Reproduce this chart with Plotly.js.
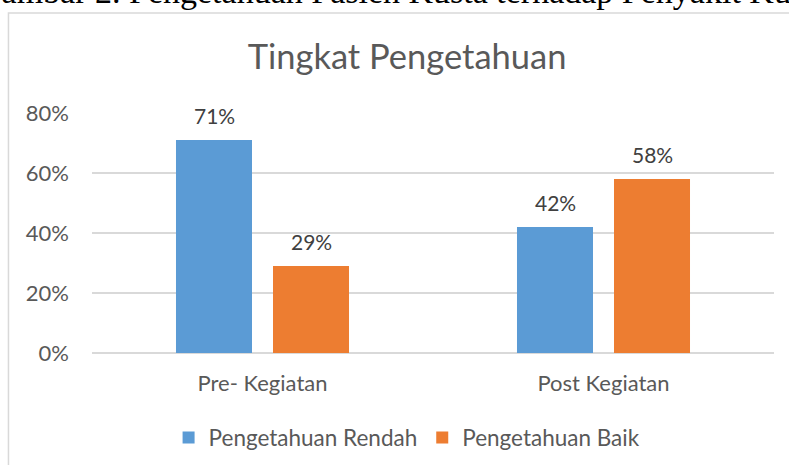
<!DOCTYPE html>
<html>
<head>
<meta charset="utf-8">
<script src="https://cdn.plot.ly/plotly-3.0.1.min.js"></script>
<style>html,body{margin:0;padding:0;background:#fff;}#chart{width:789px;height:465px;}</style>
</head>
<body>
<div id="chart"></div>
<script>
const categories = ["Pre- Kegiatan", "Post Kegiatan"];
const seriesNames = ["Pengetahuan Rendah", "Pengetahuan Baik"];
const rendah = [0.71, 0.42];
const baik = [0.29, 0.58];
const yTickVals = [0, 0.2, 0.4, 0.6, 0.8];
const yTickText = ["0%", "20%", "40%", "60%", "80%"];
const chartTitle = "Tingkat Pengetahuan";
const captionText = "Gambar 2. Pengetahuan Pasien Kusta terhadap Penyakit Kusta";

const colors = ["#5B9BD5", "#ED7D31"];
const FONT = "Lato, 'Open Sans', sans-serif";

const traces = [
  {type: "bar", name: seriesNames[0], x: categories, y: rendah, marker: {color: colors[0]}, hoverinfo: "none"},
  {type: "bar", name: seriesNames[1], x: categories, y: baik, marker: {color: colors[1]}, hoverinfo: "none"}
];

const annotations = [];
[rendah, baik].forEach((vals, si) => {
  vals.forEach((v, i) => {
    annotations.push({
      xref: "x", yref: "y", x: categories[i], y: v,
      xshift: si === 0 ? -48.5 : 48.5, yshift: 25,
      text: Math.round(v * 100) + "%", showarrow: false,
      yanchor: "middle", xanchor: "center",
      font: {family: FONT, size: 21, color: "#404040"}
    });
  });
});
annotations.push({
  xref: "paper", yref: "paper", x: -0.1716, y: 1.42, xanchor: "left", yanchor: "bottom",
  text: captionText, showarrow: false,
  font: {family: "'Liberation Serif', 'DejaVu Serif', serif", size: 34, color: "#000"}
});

const layout = {
  width: 789, height: 465,
  margin: {l: 92, r: 15, t: 113, b: 112, autoexpand: false},
  paper_bgcolor: "#fff", plot_bgcolor: "#fff",
  font: {family: FONT, color: "#595959"},
  title: {text: chartTitle, xref: "paper", yref: "paper", x: 0.462, y: 1.22, xanchor: "center", yanchor: "middle",
          font: {family: FONT, size: 34.5, color: "#595959"}},
  barmode: "group", bargap: 0.431, bargroupgap: 0.2165,
  showlegend: true,
  legend: {orientation: "h", x: 0.462, xanchor: "center", y: -0.354, yanchor: "middle",
           font: {family: FONT, size: 22.5, color: "#595959"}, itemwidth: 30, traceorder: "normal"},
  xaxis: {type: "category", showgrid: false, zeroline: false, showline: false, ticks: "",
          tickfont: {family: FONT, size: 22, color: "#595959"}, ticklabelstandoff: 15, fixedrange: true},
  yaxis: {range: [0, 0.8], tickvals: yTickVals, ticktext: yTickText, showgrid: true, gridcolor: "#D9D9D9", gridwidth: 1.3,
          zeroline: true, zerolinecolor: "#D9D9D9", zerolinewidth: 1.3, showline: false, ticks: "",
          tickfont: {family: FONT, size: 22, color: "#595959"}, ticklabelstandoff: 22, fixedrange: true},
  shapes: [{type: "rect", xref: "paper", yref: "paper", x0: -0.1225, x1: 1.1, y0: -0.7, y1: 1.4167,
            line: {color: "#D9D9D9", width: 1.5}, fillcolor: "rgba(0,0,0,0)", layer: "below"}],
  annotations: annotations
};

Plotly.newPlot("chart", traces, layout, {displayModeBar: false, staticPlot: true});
</script>
</body>
</html>
